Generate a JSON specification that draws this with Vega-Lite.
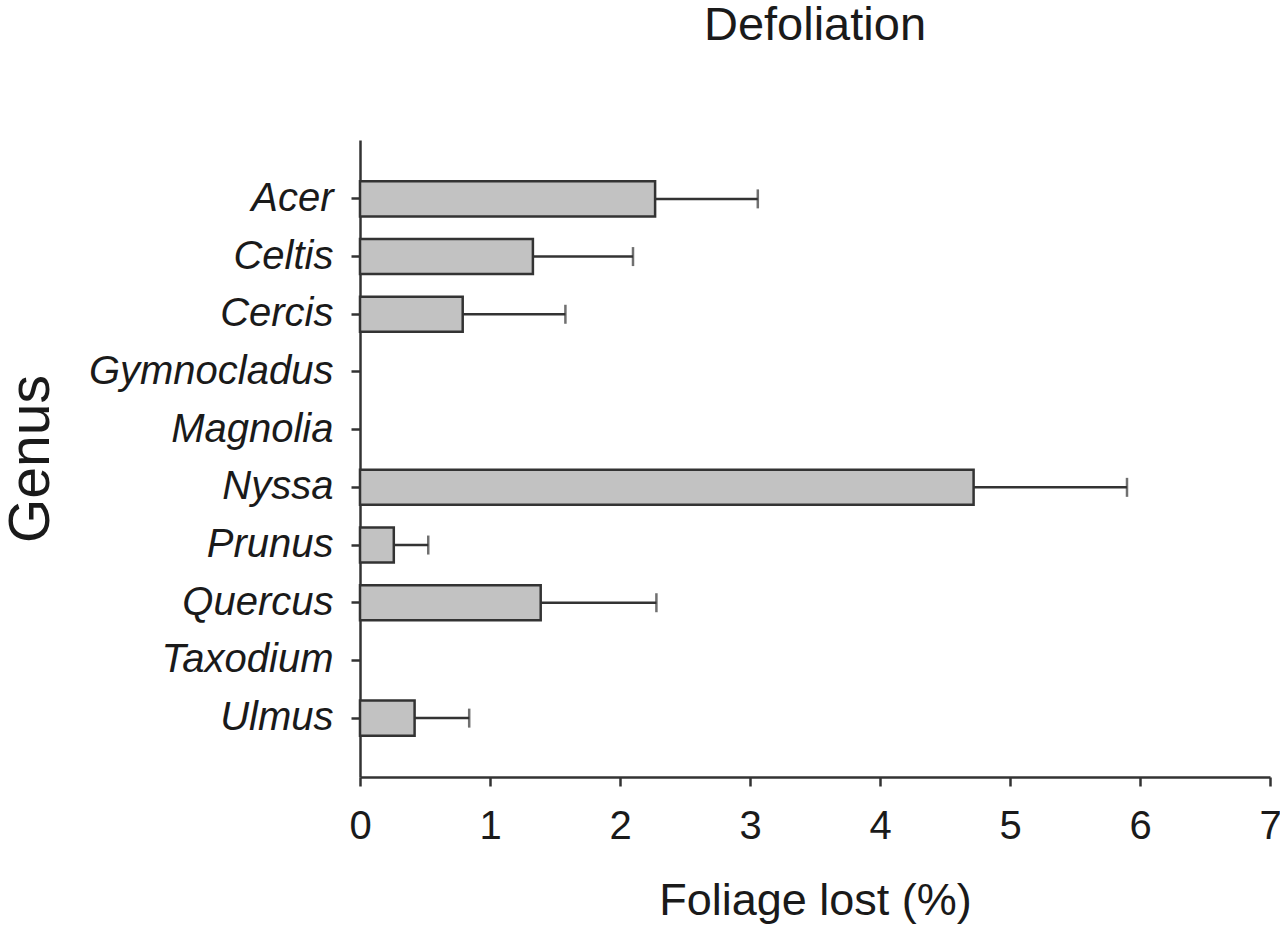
{
  "$schema": "https://vega.github.io/schema/vega-lite/v6.json",
  "autosize": {"type": "none"},
  "padding": {"left": 360, "top": 140, "right": 10, "bottom": 148},
  "width": 910,
  "height": 637,
  "background": "white",
  "title": {
    "text": "Defoliation",
    "font": "Liberation Sans",
    "fontSize": 47,
    "fontWeight": "normal",
    "color": "#1a1a1a",
    "anchor": "middle",
    "offset": 90
  },
  "config": {
    "view": {"stroke": null},
    "axis": {
      "domainColor": "#333333",
      "domainWidth": 2.5,
      "tickColor": "#333333",
      "tickWidth": 2.5,
      "tickSize": 9,
      "grid": false,
      "labelFont": "Liberation Sans",
      "titleFont": "Liberation Sans",
      "labelColor": "#1a1a1a",
      "titleColor": "#1a1a1a",
      "titleFontWeight": "normal"
    }
  },
  "data": {
    "values": [
      {"genus": "Acer", "value": 2.27, "upper": 3.06},
      {"genus": "Celtis", "value": 1.33, "upper": 2.10},
      {"genus": "Cercis", "value": 0.79, "upper": 1.58},
      {"genus": "Gymnocladus", "value": null, "upper": null},
      {"genus": "Magnolia", "value": null, "upper": null},
      {"genus": "Nyssa", "value": 4.72, "upper": 5.90},
      {"genus": "Prunus", "value": 0.26, "upper": 0.525},
      {"genus": "Quercus", "value": 1.39, "upper": 2.28},
      {"genus": "Taxodium", "value": null, "upper": null},
      {"genus": "Ulmus", "value": 0.42, "upper": 0.84}
    ]
  },
  "encoding": {
    "y": {
      "field": "genus",
      "type": "nominal",
      "scale": {
        "domain": ["Acer", "Celtis", "Cercis", "Gymnocladus", "Magnolia", "Nyssa", "Prunus", "Quercus", "Taxodium", "Ulmus"],
        "paddingInner": 0.393,
        "paddingOuter": 0.717
      },
      "axis": {
        "title": "Genus",
        "titleFontSize": 57,
        "titleX": -300,
        "titleBaseline": "bottom",
        "labelFontSize": 40,
        "labelFontStyle": "italic",
        "labelPadding": 18,
        "labelLimit": 0
      }
    }
  },
  "layer": [
    {
      "mark": {"type": "rule", "color": "#333333", "strokeWidth": 2.5},
      "encoding": {
        "x": {"field": "value", "type": "quantitative"},
        "x2": {"field": "upper"}
      }
    },
    {
      "mark": {"type": "tick", "color": "#333333", "thickness": 2.5, "size": 19, "orient": "vertical"},
      "encoding": {
        "x": {"field": "upper", "type": "quantitative"}
      }
    },
    {
      "mark": {"type": "bar", "fill": "#c2c2c2", "stroke": "#333333", "strokeWidth": 2.5},
      "encoding": {
        "x": {
          "field": "value",
          "type": "quantitative",
          "scale": {"domain": [0, 7], "nice": false, "zero": true},
          "axis": {
            "title": "Foliage lost (%)",
            "titleFontSize": 45,
            "titlePadding": 32,
            "labelFontSize": 40,
            "labelPadding": 20,
            "labelFlush": false,
            "values": [0, 1, 2, 3, 4, 5, 6, 7],
            "format": "d"
          }
        }
      }
    }
  ]
}
